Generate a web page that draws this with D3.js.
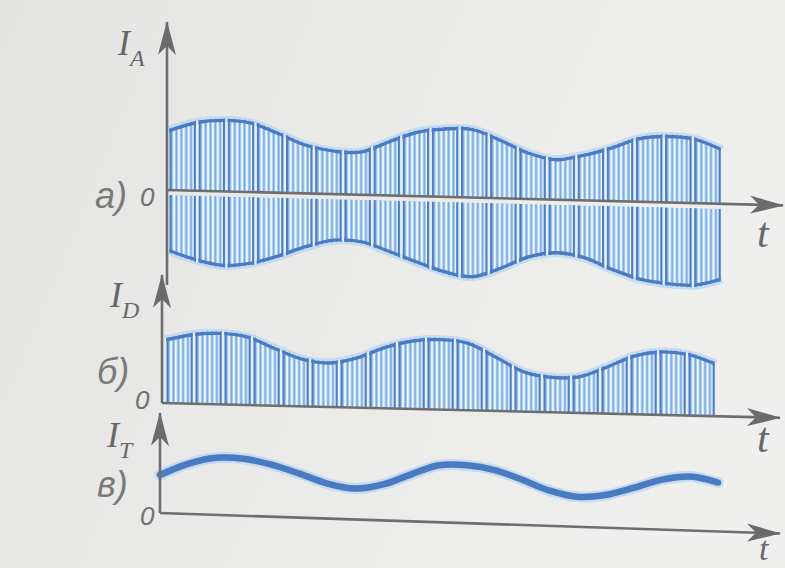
<!DOCTYPE html>
<html>
<head>
<meta charset="utf-8">
<script src="https://cdn.jsdelivr.net/npm/d3@7"></script>
<style>
  body { margin: 0; background: #eaeaea; }
  svg { display: block; }
  .lbl { font-family: "Liberation Serif", serif; font-style: italic; fill: #686868; }
  .zero { font-family: "Liberation Sans", sans-serif; font-style: italic; fill: #707070; }
  .panel { font-family: "Liberation Sans", sans-serif; font-style: italic; fill: #7a7a7a; }
</style>
</head>
<body>
<div id="chart"></div>
<script>
const W = 785, H = 568;

const tGrid = [0, 5, 10, 15, 20, 25, 30, 35, 40, 45, 50, 55, 60, 65, 70, 75, 80, 85, 90, 95, 100];
// a) I_A : upper and lower envelope of the modulated HF current
const iaUpper = [59, 68, 71, 69, 59, 48, 43, 43, 54, 64, 68, 68, 58, 46, 40, 45, 53, 63, 66, 64, 54];
const iaLower = [60, 69, 74, 71, 63, 53, 46, 47, 56, 66, 75, 79, 70, 58, 53, 57, 68, 77, 81, 82, 75];
// б) I_D : rectified current
const idUpper = [63, 69, 71, 68, 57, 47, 44, 50, 61, 68, 70, 67, 54, 40, 35, 36, 46, 58, 63, 61, 52];
// в) I_T : low-frequency current
const itValues = [38, 50, 57, 57, 52, 44, 35, 31, 36, 47, 57, 58, 54, 45, 35, 30, 33, 41, 50, 54, 49];

const carrierCycles = 57;   // carrier periods drawn across the record
const cyclesPerCap = 3;     // the drawing joins every three periods under one cap

const panelNames = ["a)", "б)", "в)"];
const yNames = [["I", "A"], ["I", "D"], ["I", "T"]];
const zeroLabel = "0";
const timeLabel = "t";

const svg = d3.select("#chart").append("svg")
    .attr("width", W)
    .attr("height", H);

const defs = svg.append("defs");

// paper tone of the scan
const paper = defs.append("linearGradient").attr("id", "paper")
    .attr("x1", 0).attr("x2", 1).attr("y1", 0).attr("y2", 0.3);
paper.append("stop").attr("offset", 0).attr("stop-color", "#e4e4e3");
paper.append("stop").attr("offset", 1).attr("stop-color", "#efefee");
svg.append("rect").attr("width", W).attr("height", H).attr("fill", "url(#paper)");

defs.append("marker")
    .attr("id", "arrow")
    .attr("viewBox", "0 0 34 20")
    .attr("refX", 33).attr("refY", 10)
    .attr("markerWidth", 34).attr("markerHeight", 20)
    .attr("markerUnits", "userSpaceOnUse")
    .attr("orient", "auto")
  .append("path")
    .attr("d", "M0,1 L34,10 L0,19 L9,10 Z")
    .attr("fill", "#6b6b6b");

const amp = d3.scaleLinear().domain([0, 100]).range([0, 100]);

const halfCycles = d3.range(0, carrierCycles * 2).map(k => k * 50 / carrierCycles);
const capEdges = d3.range(0, carrierCycles / cyclesPerCap + 1).map(k => k * 100 * cyclesPerCap / carrierCycles);

function axes(g, xEnd, yTop, yBottom) {
  g.append("line")
      .attr("x1", 0).attr("x2", 0)
      .attr("y1", yBottom).attr("y2", yTop)
      .attr("stroke", "#6e6e6e").attr("stroke-width", 2.6)
      .attr("marker-end", "url(#arrow)");
  g.append("line")
      .attr("x1", 0).attr("x2", xEnd)
      .attr("y1", 0).attr("y2", 0)
      .attr("stroke", "#6e6e6e").attr("stroke-width", 2.6)
      .attr("marker-end", "url(#arrow)");
}

// one half of a modulated carrier: stripes clipped to the envelope, capped in groups
function band(g, key, x, values, dir, inset) {
  const edge = d3.line().curve(d3.curveCatmullRom)
      .x((d, i) => x(tGrid[i]))
      .y(d => dir * amp(d));
  const shape = d3.area().curve(d3.curveCatmullRom)
      .x((d, i) => x(tGrid[i]))
      .y0(dir * inset)
      .y1(d => dir * (amp(d) + 2));

  defs.append("clipPath").attr("id", "clip-" + key)
    .append("path").attr("d", shape(values));

  g.append("path")
      .attr("d", edge(values))
      .attr("fill", "none")
      .attr("stroke", "#b7d6f3")
      .attr("stroke-width", 9)
      .attr("stroke-opacity", 0.75);

  const c = g.append("g").attr("clip-path", `url(#clip-${key})`);

  c.append("rect")
      .attr("x", x(0)).attr("width", x(100) - x(0))
      .attr("y", -160).attr("height", 320)
      .attr("fill", "#a3caef");

  c.selectAll(".hf").data(halfCycles).join("line")
      .attr("x1", t => x(t) + 1.2).attr("x2", t => x(t) + 1.2)
      .attr("y1", -160).attr("y2", 160)
      .attr("stroke", "#eef7fe").attr("stroke-width", 1.8);

  c.selectAll(".mid").data(halfCycles).join("line")
      .attr("x1", t => x(t) + 3.6).attr("x2", t => x(t) + 3.6)
      .attr("y1", -160).attr("y2", 160)
      .attr("stroke", "#78a6de").attr("stroke-width", 1);

  c.append("path")
      .attr("d", edge(values))
      .attr("fill", "none")
      .attr("stroke", "#4a7bc3")
      .attr("stroke-width", 3.4);

  c.selectAll(".leg").data(capEdges).join("line")
      .attr("x1", t => x(t) - 2.4).attr("x2", t => x(t) - 2.4)
      .attr("y1", -160).attr("y2", 160)
      .attr("stroke", "#4d7ec5").attr("stroke-width", 2);
  c.selectAll(".leg2").data(capEdges).join("line")
      .attr("x1", t => x(t) + 2.4).attr("x2", t => x(t) + 2.4)
      .attr("y1", -160).attr("y2", 160)
      .attr("stroke", "#4d7ec5").attr("stroke-width", 2);
  c.selectAll(".gap").data(capEdges).join("line")
      .attr("x1", t => x(t)).attr("x2", t => x(t))
      .attr("y1", -160).attr("y2", 160)
      .attr("stroke", "#e9eef2").attr("stroke-width", 2.2);
}

// a) I_A
const gA = svg.append("g").attr("transform", "translate(167,190) skewY(1.43)");
const xA = d3.scaleLinear().domain([0, 100]).range([1, 555]);
band(gA, "a-up", xA, iaUpper, -1, 0);
band(gA, "a-lo", xA, iaLower, 1, 5);
axes(gA, 616, -168, 95);

// б) I_D
const gD = svg.append("g").attr("transform", "translate(162,403) skewY(1.37)");
const xD = d3.scaleLinear().domain([0, 100]).range([3, 554]);
band(gD, "d-up", xD, idUpper, -1, 0);
axes(gD, 618, -128, 0);

// в) I_T
const gT = svg.append("g").attr("transform", "translate(160,513) skewY(1.9)");
const xT = d3.scaleLinear().domain([0, 100]).range([0, 558]);
const yT = d3.scaleLinear().domain([0, 100]).range([0, -100]);
const itLine = d3.line().curve(d3.curveCatmullRom)
    .x((d, i) => xT(tGrid[i]))
    .y(d => yT(d));
gT.append("path")
    .attr("d", itLine(itValues))
    .attr("fill", "none")
    .attr("stroke", "#b3d3f2")
    .attr("stroke-width", 11)
    .attr("stroke-linecap", "round")
    .attr("stroke-opacity", 0.7);
gT.append("path")
    .attr("d", itLine(itValues))
    .attr("fill", "none")
    .attr("stroke", "#4a7ac0")
    .attr("stroke-width", 6.5)
    .attr("stroke-linecap", "round");
axes(gT, 620, -100, 0);

// labels
const yLabelPos = [[118, 55], [110, 307], [107, 447]];
yNames.forEach((n, i) => {
  const t = svg.append("text").attr("class", "lbl")
      .attr("x", yLabelPos[i][0]).attr("y", yLabelPos[i][1])
      .attr("font-size", 36);
  t.append("tspan").text(n[0]);
  t.append("tspan").attr("dy", 11).attr("font-size", 24).text(n[1]);
});

const zeroPos = [[140, 206], [135, 409], [140, 525]];
zeroPos.forEach(p => {
  svg.append("text").attr("class", "zero")
      .attr("x", p[0]).attr("y", p[1])
      .attr("font-size", 26)
      .text(zeroLabel);
});

const tPos = [[757, 247, 42], [757, 452, 42], [759, 560, 34]];
tPos.forEach(p => {
  svg.append("text").attr("class", "lbl")
      .attr("x", p[0]).attr("y", p[1])
      .attr("font-size", p[2])
      .text(timeLabel);
});

const namePos = [[95, 208], [97, 384], [97, 497]];
panelNames.forEach((n, i) => {
  svg.append("text").attr("class", "panel")
      .attr("x", namePos[i][0]).attr("y", namePos[i][1])
      .attr("font-size", 36)
      .text(n);
});
</script>
</body>
</html>
